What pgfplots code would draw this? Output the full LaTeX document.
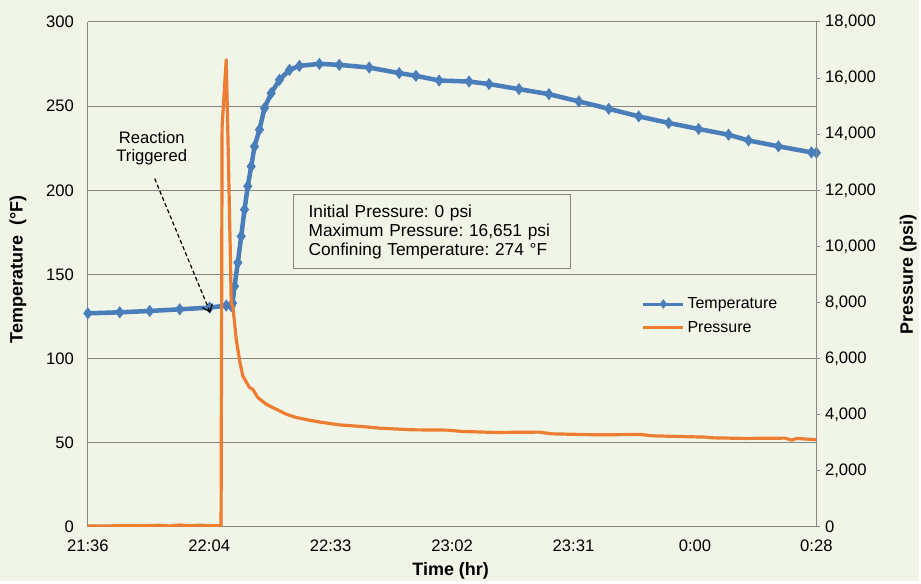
\documentclass[border=0pt]{standalone}
\usepackage{fontspec}
\setmainfont{Liberation Sans}
\usepackage{pgfplots}
\pgfplotsset{compat=1.18}
\usetikzlibrary{arrows.meta}
\definecolor{bg}{RGB}{240,245,232}
\definecolor{tblue}{RGB}{74,126,187}
\definecolor{porange}{RGB}{237,125,49}
\definecolor{gridgray}{RGB}{134,134,134}
\frenchspacing

\pgfplotsset{
  every axis/.append style={
    /pgf/number format/assume math mode=true,
    scale only axis,
    width=547.5pt, height=379.5pt,
    xmin=0, xmax=172.8,
    tick label style={font=\fontsize{12.5}{14}\selectfont, text=black},
    label style={font=\fontsize{13.5}{15}\selectfont\bfseries},
    axis line style={gridgray, line width=0.8pt},
  },
}

\begin{document}
\begin{tikzpicture}[x=1pt,y=1pt]
\fill[bg] (0,0) rectangle (690.75,436.5);

% ---------- left axis: temperature ----------
\begin{axis}[
  at={(66pt,40.5pt)}, anchor=south west,
  axis x line*=bottom, axis y line*=left,
  ymin=0, ymax=300,
  ytick={0,50,...,300},
  xtick={0,28.8,57.6,86.4,115.2,144,172.8},
  xticklabels={21:36,22:04,22:33,23:02,23:31,0:00,0:28},
  xtick style={draw=none}, ytick style={draw=none},
  yticklabel style={xshift=-7pt},
  xticklabel style={yshift=-6pt},
  ymajorgrids,
  grid style={gridgray, line width=0.8pt},
  xlabel={Time (hr)},
  ylabel={Temperature\ \ (°F)},
  xlabel style={at={(axis description cs:0.498,-0.087)}, anchor=center},
  ylabel style={at={(axis description cs:-0.0959,0.51)}, anchor=center},
]
\addplot[tblue, line width=3.4pt, mark=diamond*, mark size=1.8pt, mark options={tblue}] coordinates {
(0,126.9) (7.57,127.5) (14.68,128.3) (21.78,129.3) (28.88,130.3) (32.83,131.5) (34.02,131.2)
(34.32,133) (34.80,143) (35.58,157) (36.38,172.7) (37.16,188.5) (37.94,202.4) (38.75,214.2)
(39.53,226) (40.71,236) (41.90,248.8) (43.48,257.7) (45.45,265.6) (47.82,271.5) (50.18,273.9)
(54.92,275.1) (59.65,274.5) (66.75,272.9) (73.85,269.6) (77.81,268) (83.32,265.2) (90.42,264.6)
(95.16,263.1) (102.26,260.1) (109.36,257.1) (116.46,252.8) (123.56,248.4) (130.66,243.9)
(137.77,240) (144.87,236.4) (151.97,233) (156.70,229.6) (163.80,226.1) (171.62,222.5) (172.8,222.3)
};
\end{axis}

% ---------- right axis: pressure ----------
\begin{axis}[
  at={(66pt,40.5pt)}, anchor=south west,
  axis x line=none, axis y line*=right,
  ymin=0, ymax=18000,
  ytick={0,2000,...,18000},
  scaled y ticks=false,
  /pgf/number format/fixed,
  /pgf/number format/1000 sep={,},
  ytick style={gridgray, line width=0.8pt},
  tick align=outside, major tick length=3pt,
  ylabel={Pressure (psi)},
  ylabel style={at={(axis description cs:1.126,0.5)}, anchor=center},
  legend style={draw=none, fill=none, inner sep=0pt, row sep=4pt,
    font=\fontsize{12}{14}\selectfont,
    at={(axis description cs:0.760,0.418)}, anchor=west},
  legend cell align=left,
  legend image code/.code={\draw[mark repeat=2,mark phase=2,#1] plot coordinates {(0pt,0pt) (15pt,0pt) (30pt,0pt)};},
]
\addlegendimage{tblue, line width=2.2pt, mark=diamond*, mark size=1.8pt}
\addlegendentry{Temperature}
\addplot[porange, line width=2.4pt, line join=round] coordinates {
(0,40) (2.84,30) (7.57,45) (12.3,40) (17.0,60) (19.4,35) (21.8,70) (24.1,40) (26.5,65) (28.9,40) (31.6,40)
(31.85,14276) (32.82,16651) (33.21,14040) (33.78,9889) (34.02,7933) (34.39,7872) (35.2,6688)
(35.98,5950) (36.76,5382) (38.35,4970) (39.13,4909) (40.31,4614) (42.30,4375) (44.67,4198)
(47.04,4020) (49.40,3902) (52.55,3806) (55.63,3724) (59.65,3639) (65.97,3568) (69.12,3522)
(77.0,3462) (85.29,3451) (88.84,3404) (96.74,3368) (106.99,3380) (110.14,3319) (120.41,3284)
(131.24,3296) (133.81,3248) (146.45,3202) (148.01,3177) (155.92,3155) (165.39,3166)
(166.95,3095) (168.13,3155) (171.69,3120) (172.8,3110)
};
\addlegendentry{Pressure}

\node[draw=gridgray, line width=0.8pt, fill=bg, anchor=north west, align=left,
  text width=186pt, inner xsep=11pt, inner ysep=7.5pt,
  font=\fontsize{13}{14.25}\selectfont]
  at (axis description cs:0.2822,0.6587)
  {Initial Pressure: 0 psi\\Maximum Pressure: 16,651 psi\\Confining Temperature: 274 °F};

\node[align=center, font=\fontsize{12.5}{14.25}\selectfont]
  at (axis description cs:0.0877,0.750) {Reaction\\Triggered};
\draw[black, line width=0.9pt, dash pattern=on 3pt off 2pt, -{Straight Barb[length=5pt,width=8pt]}]
  (axis description cs:0.0918,0.6897) -- (axis description cs:0.1681,0.4243);
\end{axis}
\end{tikzpicture}
\end{document}
